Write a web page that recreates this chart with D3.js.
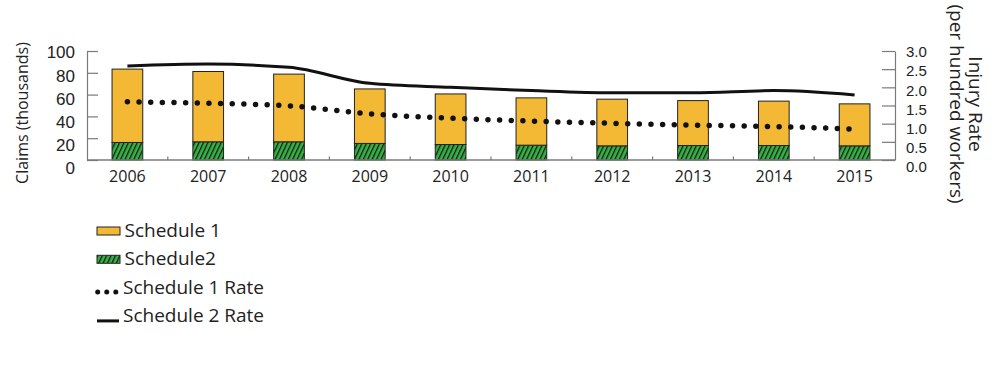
<!DOCTYPE html>
<html>
<head>
<meta charset="utf-8">
<script src="https://cdn.jsdelivr.net/npm/d3@7"></script>
<style>
  html, body { margin: 0; padding: 0; background: #fff; }
  svg { display: block; font-family: "Open Sans", "Noto Sans", sans-serif; }
</style>
</head>
<body>
<svg id="chart" width="1000" height="365"></svg>
<script>
const years = ["2006","2007","2008","2009","2010","2011","2012","2013","2014","2015"];
const schedule1 = [67.3, 64.5, 62.1, 50.0, 46.4, 43.4, 42.8, 41.2, 40.7, 38.5];
const schedule2 = [16.1, 16.7, 16.7, 15.2, 14.2, 13.6, 13.0, 13.3, 13.3, 13.0];
const schedule1Rate = [1.60, 1.56, 1.49, 1.27, 1.15, 1.07, 1.01, 0.96, 0.92, 0.85];
const schedule2Rate = [2.59, 2.64, 2.55, 2.11, 2.00, 1.91, 1.85, 1.85, 1.91, 1.79];
const claimTicks = [0, 20, 40, 60, 80, 100];
const rateTicks = [0, 0.5, 1.0, 1.5, 2.0, 2.5, 3.0];
const legendItems = ["Schedule 1", "Schedule2", "Schedule 1 Rate", "Schedule 2 Rate"];

const svg = d3.select("#chart");
const L = 87, R = 895, T = 51, B = 160;
const YELLOW = "#f3b934", GREEN = "#35b445", AXIS = "#7a7a7a";

const x = d3.scaleBand().domain(years).range([L, R]).paddingInner(0.62).paddingOuter(0.31);
const y = d3.scaleLinear().domain([0, 100]).range([B, T]);
const yR = d3.scaleLinear().domain([0, 3]).range([B, T]);
// label placement scales (labels in the reference are spread slightly wider than ticks)
const yLab = d3.scaleLinear().domain([0, 100]).range([B + 7.5, T + 1]);
const yRLab = d3.scaleLinear().domain([0, 3]).range([B + 6.7, T + 0.5]);

// hatch pattern
const defs = svg.append("defs");
const pat = defs.append("pattern").attr("id", "hatch").attr("patternUnits", "userSpaceOnUse")
  .attr("width", 4).attr("height", 4).attr("patternTransform", "rotate(25)");
pat.append("rect").attr("width", 4).attr("height", 4).attr("fill", GREEN);
pat.append("rect").attr("x", 0).attr("width", 1.3).attr("height", 4).attr("fill", "#1a1a1a");

// stacked bars
const rows = years.map((yr, i) => ({ year: yr, s2: schedule2[i], s1: schedule1[i] }));
const stack = d3.stack().keys(["s2", "s1"])(rows);
const fills = { s2: "url(#hatch)", s1: YELLOW };
svg.append("g").selectAll("g").data(stack).join("g")
  .attr("fill", d => fills[d.key])
  .selectAll("rect").data(d => d).join("rect")
  .attr("x", d => x(d.data.year))
  .attr("width", x.bandwidth())
  .attr("y", d => y(d[1]))
  .attr("height", d => y(d[0]) - y(d[1]))
  .attr("stroke", "#222").attr("stroke-width", 1);

// left axis
const gL = svg.append("g").attr("transform", `translate(${L},0)`)
  .call(d3.axisLeft(y).tickValues(claimTicks).tickSize(-11).tickSizeOuter(0));
gL.select(".domain").attr("stroke", AXIS).attr("stroke-width", 1.2);
gL.selectAll(".tick line").attr("stroke", AXIS).attr("stroke-width", 1.2);
gL.selectAll(".tick text").attr("x", -12).attr("dy", "0.35em")
  .attr("y", d => yLab(d) - y(d))
  .attr("font-size", 17).attr("fill", "#222").attr("font-family", null);

// right axis
const gR = svg.append("g").attr("transform", `translate(${R},0)`)
  .call(d3.axisRight(yR).tickValues(rateTicks).tickSize(-13).tickSizeOuter(0).tickFormat(d3.format(".1f")));
gR.select(".domain").attr("stroke", AXIS).attr("stroke-width", 1.2);
gR.selectAll(".tick line").attr("stroke", AXIS).attr("stroke-width", 1.2);
gR.selectAll(".tick text").attr("x", 11).attr("dy", "0.35em")
  .attr("y", d => yRLab(d) - yR(d))
  .attr("font-size", 15).attr("fill", "#222").attr("font-family", null);

// bottom axis
svg.append("line").attr("x1", L).attr("x2", R).attr("y1", B).attr("y2", B)
  .attr("stroke", AXIS).attr("stroke-width", 1.4);
const gap = x.step() * x.paddingInner() / 2;
svg.append("g").selectAll("line").data(years.slice(1)).join("line")
  .attr("x1", d => x(d) - gap).attr("x2", d => x(d) - gap)
  .attr("y1", B).attr("y2", B - 3.5)
  .attr("stroke", AXIS).attr("stroke-width", 1.2);
svg.append("g").selectAll("text").data(years).join("text")
  .attr("x", d => x(d) + x.bandwidth() / 2).attr("y", 182)
  .attr("text-anchor", "middle").attr("font-size", 16).attr("fill", "#222")
  .text(d => d);

// lines
const cx = d => x(d) + x.bandwidth() / 2;
const line2 = d3.line().x((d, i) => cx(years[i])).y(d => yR(d)).curve(d3.curveMonotoneX);
svg.append("path").attr("d", line2(schedule2Rate))
  .attr("fill", "none").attr("stroke", "#111").attr("stroke-width", 3);
const line1 = d3.line().x((d, i) => cx(years[i])).y(d => yR(d)).curve(d3.curveMonotoneX);
svg.append("path").attr("d", line1(schedule1Rate))
  .attr("fill", "none").attr("stroke", "#111").attr("stroke-width", 5.5)
  .attr("stroke-linecap", "round").attr("stroke-dasharray", "0 11.65");

// axis titles
svg.append("text").attr("transform", "translate(28,113) rotate(-90)")
  .attr("text-anchor", "middle").attr("font-size", 16).attr("fill", "#222")
  .text("Claims (thousands)");
const rt = svg.append("text").attr("transform", "translate(969,104) rotate(90)")
  .attr("text-anchor", "middle").attr("font-size", 19).attr("fill", "#222");
rt.append("tspan").attr("x", 0).attr("y", 0).text("Injury Rate");
rt.append("tspan").attr("x", 0).attr("y", 19.5).text("(per hundred workers)");

// legend
const lg = svg.append("g");
const ly = i => 237 + i * 28.3;
lg.append("rect").attr("x", 97).attr("y", ly(0) - 10).attr("width", 23).attr("height", 8)
  .attr("fill", YELLOW).attr("stroke", "#222").attr("stroke-width", 1);
lg.append("rect").attr("x", 97).attr("y", ly(1) - 10).attr("width", 23).attr("height", 8)
  .attr("fill", "url(#hatch)").attr("stroke", "#222").attr("stroke-width", 1);
lg.append("line").attr("x1", 97.7).attr("x2", 115.8).attr("y1", ly(2) - 1.5).attr("y2", ly(2) - 1.5)
  .attr("stroke", "#111").attr("stroke-width", 5).attr("stroke-linecap", "round")
  .attr("stroke-dasharray", "0 9.05");
lg.append("line").attr("x1", 97).attr("x2", 119).attr("y1", ly(3) - 1).attr("y2", ly(3) - 1)
  .attr("stroke", "#111").attr("stroke-width", 3);
lg.selectAll("text").data(legendItems).join("text")
  .attr("x", d => (d.includes("Rate") ? 123 : 124.5)).attr("y", (d, i) => ly(i))
  .attr("font-size", 19).attr("fill", "#222").text(d => d);
</script>
</body>
</html>
